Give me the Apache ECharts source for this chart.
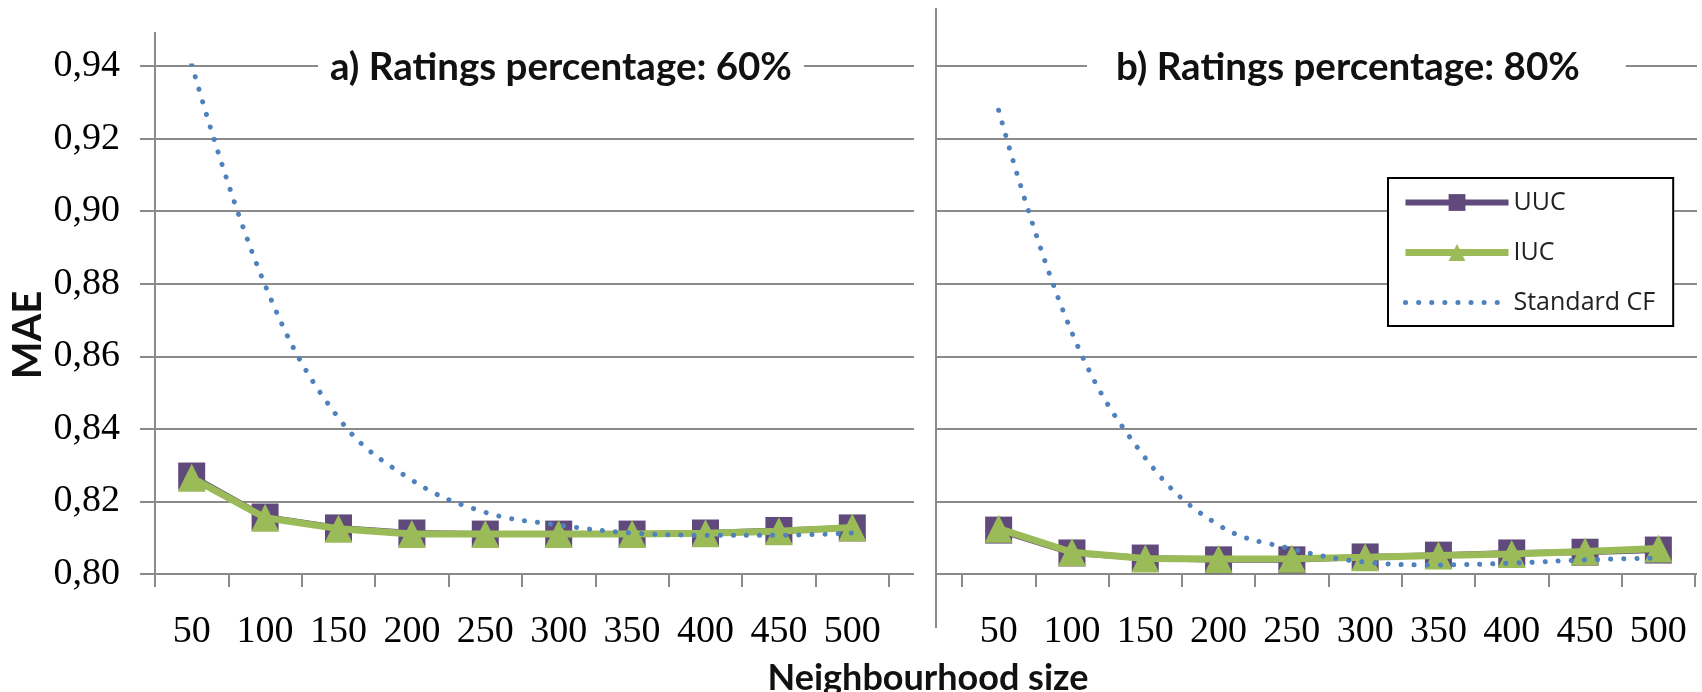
<!DOCTYPE html>
<html>
<head>
<meta charset="utf-8">
<script src="https://cdn.jsdelivr.net/npm/echarts@6/dist/echarts.min.js"></script>
<style>
  html, body { margin: 0; padding: 0; background: #fff; }
  #chart { width: 1702px; height: 692px; }
</style>
</head>
<body>
<div id="chart"></div>
<script>
// ---- data ----
const categories = ['50', '100', '150', '200', '250', '300', '350', '400', '450', '500'];
const seriesNames = ['UUC', 'IUC', 'Standard CF'];
const panelTitles = ['a) Ratings percentage: 60%', 'b) Ratings percentage: 80%'];
const yTicks = { min: 0.80, max: 0.94, step: 0.02 };
const uucA = [0.8270, 0.8157, 0.8127, 0.8113, 0.8110, 0.8110, 0.8110, 0.8113, 0.8120, 0.8127];
const iucA = [0.8265, 0.8155, 0.8125, 0.8110, 0.8110, 0.8110, 0.8110, 0.8112, 0.8118, 0.8128];
const cfA  = [0.9405, 0.8796, 0.8430, 0.8259, 0.8170, 0.8135, 0.8113, 0.8107, 0.8107, 0.8113];
const uucB = [0.8121, 0.8058, 0.8044, 0.8039, 0.8039, 0.8047, 0.8052, 0.8058, 0.8060, 0.8066];
const iucB = [0.8125, 0.8060, 0.8043, 0.8041, 0.8042, 0.8046, 0.8051, 0.8055, 0.8062, 0.8070];
const cfB  = [0.9278, 0.8665, 0.8320, 0.8135, 0.8069, 0.8033, 0.8025, 0.8030, 0.8039, 0.8044];

// ---- layout ----
const TOP = 66, H = 508;
const GRID_COLOR = '#8a8a8a';
const C_UUC = '#604A7B', C_IUC = '#9BBB59', C_CF = '#4F81BD';
const numFont = 'Liberation Serif';
const boldFont = 'Lato';

const chart = echarts.init(document.getElementById('chart'), null, { renderer: 'canvas' });

function bgY(idx, withLabels) {
  return {
    type: 'value', gridIndex: idx, min: yTicks.min, max: yTicks.max, interval: yTicks.step,
    axisLine: { show: false },
    axisTick: { show: withLabels, length: 15, lineStyle: { color: GRID_COLOR, width: 2 } },
    axisLabel: {
      show: withLabels, margin: 35, color: '#000', fontFamily: numFont, fontSize: 38,
      formatter: v => v.toFixed(2).replace('.', ',')
    },
    splitLine: { show: true, lineStyle: { color: GRID_COLOR, width: 2 } }
  };
}
function dataY(idx) {
  return {
    type: 'value', gridIndex: idx, min: yTicks.min, max: yTicks.max, interval: yTicks.step,
    show: true, axisLine: { show: false }, axisTick: { show: false },
    axisLabel: { show: false }, splitLine: { show: false }
  };
}
function dataX(idx) {
  return {
    type: 'category', gridIndex: idx, data: categories, boundaryGap: true,
    axisLine: { show: false },
    axisTick: { show: true, length: 13, alignWithLabel: false, lineStyle: { color: GRID_COLOR, width: 2 } },
    axisLabel: { margin: 39, color: '#000', fontFamily: numFont, fontSize: 38, interval: 0 },
    splitLine: { show: false }
  };
}
function mkSeries(axisIdx, uuc, iuc, cf) {
  return [
    { name: seriesNames[0], type: 'line', xAxisIndex: axisIdx, yAxisIndex: axisIdx, data: uuc, z: 2,
      symbol: 'rect', symbolSize: 27, lineStyle: { color: C_UUC, width: 6 }, itemStyle: { color: C_UUC } },
    { name: seriesNames[1], type: 'line', xAxisIndex: axisIdx, yAxisIndex: axisIdx, data: iuc, z: 3,
      symbol: 'triangle', symbolSize: 28, lineStyle: { color: C_IUC, width: 7 }, itemStyle: { color: C_IUC } },
    { name: seriesNames[2], type: 'line', xAxisIndex: axisIdx, yAxisIndex: axisIdx, data: cf, z: 4,
      symbol: 'none', smooth: 0.4, itemStyle: { color: C_CF },
      lineStyle: { color: C_CF, width: 5, type: [0.1, 13], cap: 'round' } }
  ];
}

const option = {
  animation: false,
  backgroundColor: '#fff',
  grid: [
    { left: 155, top: TOP, width: 759, height: H },   // background A
    { left: 936, top: TOP, width: 761, height: H },   // background B
    { left: 155, top: TOP, width: 734, height: H },   // data A
    { left: 962, top: TOP, width: 733, height: H }    // data B
  ],
  xAxis: [
    { type: 'value', gridIndex: 0, show: false },
    { type: 'value', gridIndex: 1, show: false },
    dataX(2), dataX(3)
  ],
  yAxis: [bgY(0, true), bgY(1, false), dataY(2), dataY(3)],
  title: [
    { text: panelTitles[0], left: 318, top: 46, padding: [2, 12], backgroundColor: '#fff',
      textStyle: { fontFamily: boldFont, fontWeight: 'bold', fontSize: 38.5, color: '#111' } },
    { text: panelTitles[1], left: 1087, top: 46, padding: [2, 46, 2, 29], backgroundColor: '#fff',
      textStyle: { fontFamily: boldFont, fontWeight: 'bold', fontSize: 38.5, color: '#111' } }
  ],
  legend: {
    orient: 'vertical', left: 1388, top: 178,
    data: [
      { name: seriesNames[0] },
      { name: seriesNames[1] },
      { name: seriesNames[2], itemStyle: { opacity: 0 } }
    ],
    padding: [9, 18, 8, 14], itemGap: 19, itemWidth: 103, itemHeight: 21,
    lineStyle: { width: 'inherit' },
    backgroundColor: '#fff', borderColor: '#000', borderWidth: 2, borderRadius: 0,
    textStyle: { fontFamily: 'Open Sans', fontSize: 25, color: '#222', lineHeight: 31 }
  },
  graphic: [
    { type: 'line', shape: { x1: 155, y1: 32, x2: 155, y2: 587 }, style: { stroke: GRID_COLOR, lineWidth: 2 }, z: 1 },
    { type: 'line', shape: { x1: 936, y1: 8, x2: 936, y2: 628 }, style: { stroke: GRID_COLOR, lineWidth: 2 }, z: 1 },
    { type: 'text', x: 28, y: 335, rotation: Math.PI / 2,
      style: { text: 'MAE', fontFamily: boldFont, fontWeight: 'bold', fontSize: 40, fill: '#111',
               textAlign: 'center', textVerticalAlign: 'middle' } },
    { type: 'text', x: 928, y: 678,
      style: { text: 'Neighbourhood size', fontFamily: boldFont, fontWeight: 'bold', fontSize: 36, fill: '#111',
               textAlign: 'center', textVerticalAlign: 'middle' } }
  ],
  series: [].concat(mkSeries(2, uucA, iucA, cfA), mkSeries(3, uucB, iucB, cfB))
};
chart.setOption(option);
</script>
</body>
</html>
